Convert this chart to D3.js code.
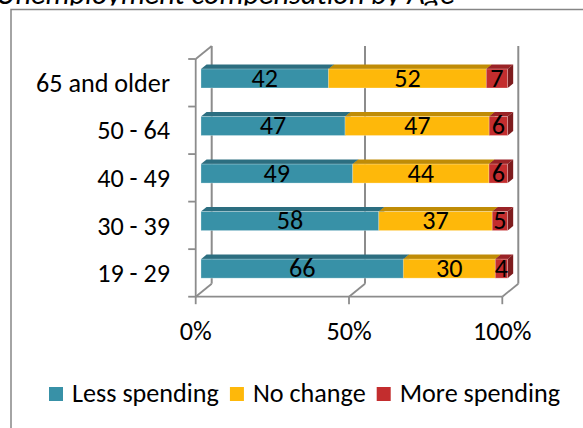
<!DOCTYPE html>
<html>
<head>
<meta charset="utf-8">
<script src="https://cdn.jsdelivr.net/npm/d3@7"></script>
<style>
  html, body { margin: 0; padding: 0; background: #fff; }
  svg { display: block; }
</style>
</head>
<body>
<svg id="chart" width="583" height="428"></svg>
<script>
// ---- data ----
const title = "Unemployment compensation by Age";
const categories = ["65 and older", "50 - 64", "40 - 49", "30 - 39", "19 - 29"];
const seriesNames = ["Less spending", "No change", "More spending"];
const lessSpending = [42, 47, 49, 58, 66];
const noChange = [52, 47, 44, 37, 30];
const moreSpending = [7, 6, 6, 5, 4];
const xTickValues = [0, 0.5, 1];
const xTickLabels = ["0%", "50%", "100%"];

// ---- styles ----
const FONT = "Carlito, Calibri, Lato, 'Open Sans', sans-serif";
const frontColors = ["#3891a7", "#feb80a", "#c32d2e"];
const topColors = ["#2c6e80", "#c08c06", "#9a2326"];
const sideColors = ["#245b6a", "#9c7205", "#7e1c1e"];
const axisColor = "#8c8c8c";

const svg = d3.select("#chart");

function fitSize(text, targetW, italic) {
  const t = svg.append("text").attr("font-family", FONT).attr("font-size", 100)
    .attr("font-style", italic ? "italic" : "normal").text(text);
  const w = t.node().getComputedTextLength();
  t.remove();
  return 100 * targetW / w;
}
const fs = fitSize("Less spending", 147, false);
const titleFs = fitSize(title, 459, true);

// ---- border & title ----
svg.append("rect").attr("x", 11).attr("y", 9.5).attr("width", 600).attr("height", 440)
  .attr("fill", "none").attr("stroke", "#868686").attr("stroke-width", 1.5);

svg.append("clipPath").attr("id", "tclip").append("rect")
  .attr("x", -10).attr("y", -60).attr("width", 700).attr("height", 65.5);
svg.append("text").attr("clip-path", "url(#tclip)")
  .attr("x", -4).attr("y", 4).attr("font-family", FONT).attr("font-style", "italic")
  .attr("font-size", titleFs).attr("fill", "#000").text(title);

// ---- scales ----
const x = d3.scaleLinear().domain([0, 1]).range([195.7, 502.3]);
const y = d3.scaleBand().domain(categories).range([59, 296.7]).paddingInner(0.6).paddingOuter(0.3);
const DX = 16, DY = -13;          // full depth offset (front -> back wall)
const Z0 = 0.33, Z1 = 0.68;       // bar depth range
const yTop = 59, yFloor = 296.7;

const g = svg.append("g");
const line = (x1, y1, x2, y2, w) => g.append("line")
  .attr("x1", x1).attr("y1", y1).attr("x2", x2).attr("y2", y2)
  .attr("stroke", axisColor).attr("stroke-width", w || 1.8);

// back wall gridlines
xTickValues.forEach(v => line(x(v) + DX, yTop + DY, x(v) + DX, yFloor + DY, 2));
// floor diagonals
xTickValues.forEach(v => line(x(v), yFloor, x(v) + DX, yFloor + DY, 1.8));
// front floor edge + ticks
line(x(0), yFloor, x(1), yFloor, 1.8);
xTickValues.forEach(v => line(x(v), yFloor, x(v), yFloor + 7.5, 1.8));
// left axis + top diagonal + ticks
line(x(0), yTop, x(0), yFloor, 1.8);
line(x(0), yTop, x(0) + DX, yTop + DY, 1.8);
const bounds = categories.map(c => y(c) - y.step() * y.paddingInner() / 2);
bounds.push(yFloor);
bounds[0] = yTop;
bounds.forEach(b => line(x(0) - 7.5, b, x(0), b, 1.8));

// ---- bars ----
const series = [lessSpending, noChange, moreSpending];
const bw = y.bandwidth();
categories.forEach((c, i) => {
  const total = series.reduce((s, arr) => s + arr[i], 0);
  let acc = 0;
  const yf = y(c) + DY * Z0;          // front face top
  const ox = DX * Z0;
  const ddx = DX * (Z1 - Z0), ddy = DY * (Z1 - Z0);
  series.forEach((arr, k) => {
    const v0 = acc / total, v1 = (acc + arr[i]) / total;
    acc += arr[i];
    const xa = x(v0) + ox, xb = x(v1) + ox;
    // top face
    g.append("path")
      .attr("d", `M${xa},${yf}L${xa + ddx},${yf + ddy}L${xb + ddx},${yf + ddy}L${xb},${yf}Z`)
      .attr("fill", topColors[k]);
    // side face
    g.append("path")
      .attr("d", `M${xb},${yf}L${xb + ddx},${yf + ddy}L${xb + ddx},${yf + ddy + bw}L${xb},${yf + bw}Z`)
      .attr("fill", sideColors[k]);
    // front face
    g.append("rect").attr("x", xa).attr("y", yf).attr("width", xb - xa).attr("height", bw)
      .attr("fill", frontColors[k]).attr("stroke", "rgba(255,255,255,0.35)").attr("stroke-width", 0.8);
    g.append("text").attr("x", (xa + xb) / 2).attr("y", yf + bw / 2 + 0.32 * fs)
      .attr("text-anchor", "middle").attr("font-family", FONT).attr("font-size", fs)
      .attr("fill", "#000").text(arr[i]);
  });
});

// ---- category labels ----
categories.forEach(c => {
  svg.append("text").attr("x", 170).attr("y", y(c) + bw / 2 + 0.35 * fs)
    .attr("text-anchor", "end").attr("font-family", FONT).attr("font-size", fs)
    .attr("fill", "#000").text(c);
});

// ---- x labels ----
xTickValues.forEach((v, i) => {
  svg.append("text").attr("x", x(v)).attr("y", 340).attr("text-anchor", "middle")
    .attr("font-family", FONT).attr("font-size", fs).attr("fill", "#000").text(xTickLabels[i]);
});

// ---- legend ----
let lx = 49;
seriesNames.forEach((n, k) => {
  svg.append("rect").attr("x", lx).attr("y", 387).attr("width", 14).attr("height", 14)
    .attr("fill", frontColors[k]);
  const t = svg.append("text").attr("x", lx + 23).attr("y", 401.5)
    .attr("font-family", FONT).attr("font-size", fs).attr("fill", "#000").text(n);
  lx += 23 + t.node().getComputedTextLength() + 11;
});
</script>
</body>
</html>
